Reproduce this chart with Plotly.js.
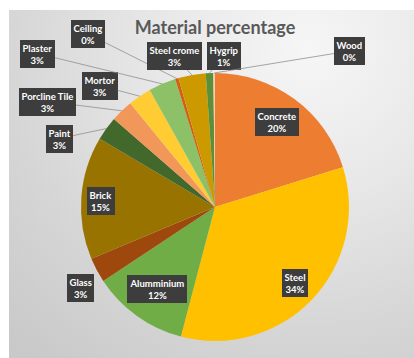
<!DOCTYPE html>
<html><head><meta charset="utf-8">
<script src="https://cdn.plot.ly/plotly-3.0.1.min.js"></script>
<style>
html,body{margin:0;padding:0;background:#fff;}
#wrap{position:relative;width:414px;height:358px;overflow:hidden;background:#fff;}
#bg{position:absolute;left:9px;top:10px;right:0;bottom:0;
 background:radial-gradient(ellipse 430px 400px at 300px 40px,#f6f6f6 0%,#e8e8e8 35%,#d6d6d6 70%,#c9c9c9 100%);}
#chart{position:absolute;left:0;top:0;width:414px;height:358px;}
</style></head><body>
<div id="wrap"><div id="bg"></div><div id="chart"></div></div>
<script>
// ---- data ----
const materials = ["Concrete","Steel","Alumminium","Glass","Brick","Paint","Porcline Tile","Mortor","Plaster","Ceiling","Steel crome","Hygrip","Wood"];
const shares = [20.2, 33.9, 11.6, 3.0, 14.8, 2.9, 2.7, 2.8, 3.3, 0.4, 3.3, 0.9, 0.2];
const percentLabels = ["20%","34%","12%","3%","15%","3%","3%","3%","3%","0%","3%","1%","0%"];
const chartTitle = "Material percentage";

// ---- styles / layout ----
const sliceColors = ["#ED7D31","#FFC000","#70AD47","#9E480E","#997300","#43682B","#F1975A","#FFCD33","#8CC168","#D26012","#CC9A00","#5B8F3A","#F8CBAD"];
const W = 414, H = 358;
const CX = 215, CY = 207, R = 134;
// label box centres (px) and whether a leader line is drawn
const labelBoxes = {
  "Concrete":[276.5,121.5,false], "Steel":[295,282.5,false], "Alumminium":[156.5,288.5,false],
  "Glass":[80,287.5,false], "Brick":[101,201,false], "Paint":[59.5,138.5,true],
  "Porcline Tile":[47.5,101.5,true], "Mortor":[99.5,85.5,true], "Plaster":[37.5,53.5,true],
  "Ceiling":[88,34,true], "Steel crome":[174,56,true], "Hygrip":[224,56,true], "Wood":[349.5,51,true]
};

const total = shares.reduce((a,b)=>a+b,0);
let cum = 0;
const annotations = [];
materials.forEach((m,i)=>{
  const mid = (cum + shares[i]/2)/total;
  cum += shares[i];
  const ang = mid*2*Math.PI;
  const tx = CX + R*Math.sin(ang), ty = CY - R*Math.cos(ang);
  const [bx,by,arrow] = labelBoxes[m];
  const base = {
    text: "<b>"+m+"</b><br><b>"+percentLabels[i]+"</b>",
    font:{family:"Lato, 'Open Sans', sans-serif", size:9.5, color:"#ffffff"},
    bgcolor:"#3d3d3d", borderpad:2.5, borderwidth:0,
    xref:"paper", yref:"paper", align:"center"
  };
  if(arrow){
    annotations.push(Object.assign(base,{
      x: tx/W, y: 1-ty/H, showarrow:true, arrowhead:0, arrowwidth:0.8,
      arrowcolor:"#8f8f8f", standoff:0, axref:"pixel", ayref:"pixel",
      ax: bx-tx, ay: by-ty
    }));
  } else {
    annotations.push(Object.assign(base,{
      x: bx/W, y: 1-by/H, showarrow:false, xanchor:"center", yanchor:"middle"
    }));
  }
});

const trace = {
  type:"pie", labels: materials, values: shares, sort:false,
  direction:"clockwise", rotation:0, textinfo:"none", hoverinfo:"none",
  marker:{colors:sliceColors, line:{width:0}},
  domain:{x:[(CX-R)/W,(CX+R)/W], y:[1-(CY+R)/H, 1-(CY-R)/H]}
};

const layout = {
  width:W, height:H, margin:{l:0,r:0,t:0,b:0},
  paper_bgcolor:"rgba(0,0,0,0)", plot_bgcolor:"rgba(0,0,0,0)",
  showlegend:false,
  title:{text:"<b>"+chartTitle+"</b>", x:215/W, y:1-28/H, xanchor:"center", yanchor:"middle",
    font:{family:"Lato, 'Open Sans', sans-serif", size:18, color:"#595959"}},
  annotations: annotations
};
Plotly.newPlot("chart",[trace],layout,{displayModeBar:false, staticPlot:true});
</script>
</body></html>
